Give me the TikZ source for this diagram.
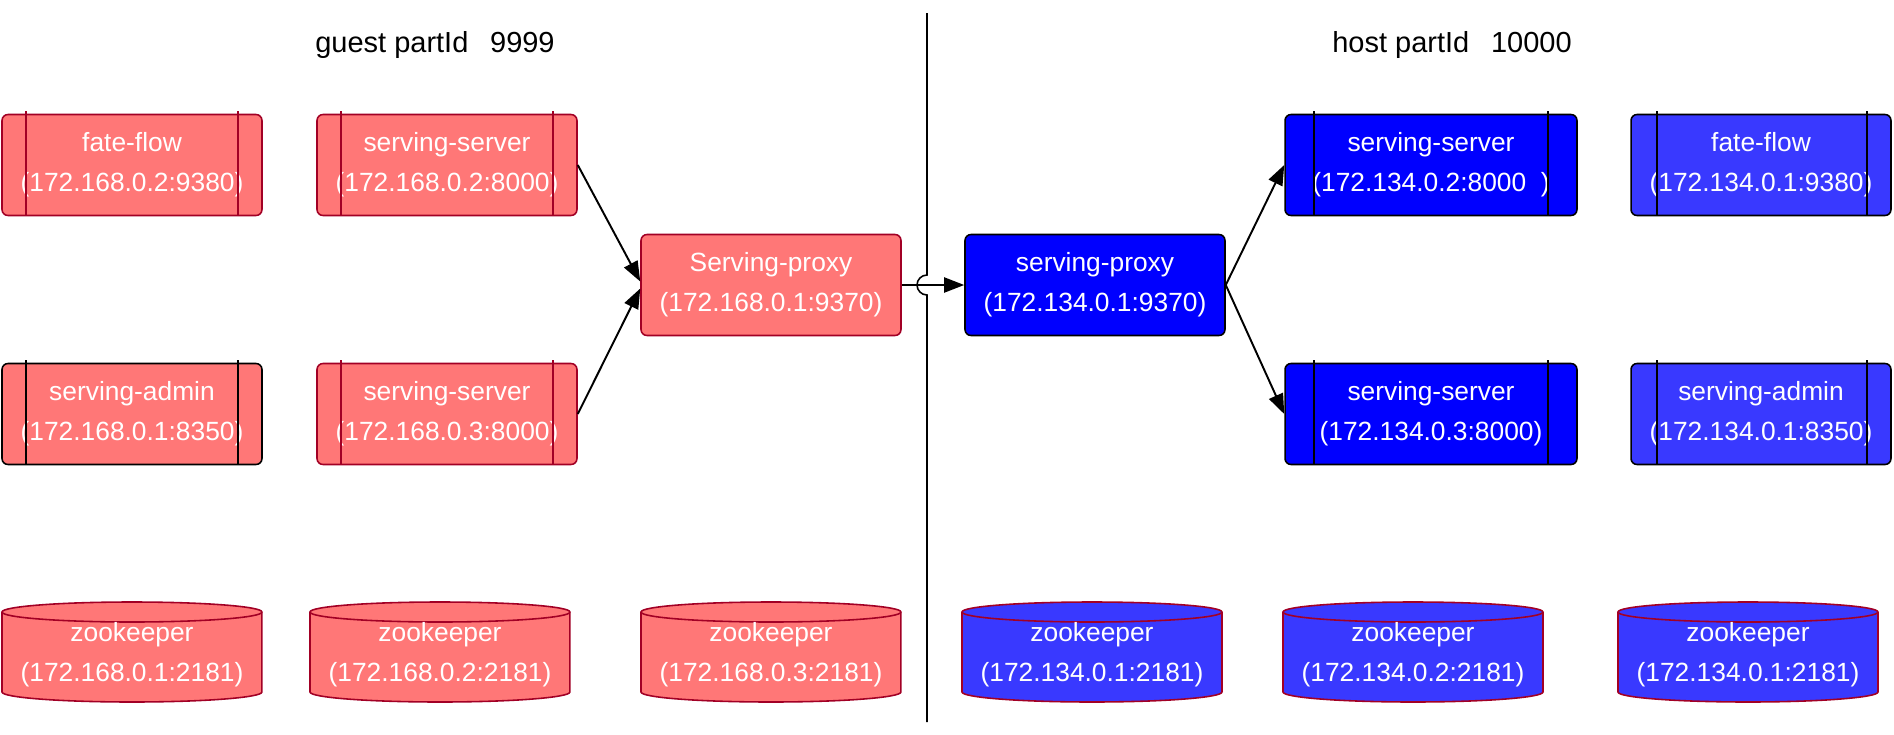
\documentclass[tikz,border=0pt]{standalone}
\usepackage{fontspec}
\setmainfont{Liberation Sans}
\usetikzlibrary{arrows.meta}

\definecolor{guestred}{HTML}{FF7777}
\definecolor{guestline}{HTML}{A20025}
\definecolor{hostblue}{HTML}{0000FF}
\definecolor{hostlight}{HTML}{3939FF}

% zookeeper drum: name, x, y, text, fill
\newcommand{\zkdb}[5]{%
  \draw[fill=#5, draw=guestline, line width=0.9pt] (#2,#3) ++(-130,-40) -- ++(0,80)
    arc[start angle=180, end angle=360, x radius=2.6cm, y radius=0.2cm] -- ++(0,-80)
    arc[start angle=0, end angle=180, x radius=2.6cm, y radius=0.2cm] -- cycle;
  \draw[draw=guestline, line width=0.9pt] (#2,#3) ++(-130,-40)
    arc[start angle=180, end angle=360, x radius=2.6cm, y radius=0.2cm];
  \node[zk] (#1) at (#2,#3+3) {#4};}

\begin{document}
\begin{tikzpicture}[x=0.02cm, y=-0.02cm, >={Triangle[length=0.4cm, width=0.3cm]},
  box/.style={rectangle, rounded corners=0.12cm, minimum width=5.2cm, minimum height=2.02cm,
    align=center, text=white, line width=0.9pt, font=\fontsize{15}{22.8}\selectfont},
  guest/.style={box, draw=guestline, fill=guestred},
  host/.style={box, draw=black, fill=hostblue},
  hostl/.style={box, draw=black, fill=hostlight},
  zk/.style={align=center, text=white, font=\fontsize{15}{22.8}\selectfont},
  title/.style={font=\fontsize{16.5}{20}\selectfont},
  link/.style={->, line width=1.1pt}]

\useasboundingbox (0,0) rectangle (1894,734);

\node[title] (guest) at (435,45) {guest partId\hspace{0.75em}9999};
\node[title] (host) at (1452,45) {host partId\hspace{0.75em}10000};

% guest side
\node[guest] (ffg) at (132,165) {fate-flow\\(172.168.0.2:9380)};
\node[guest] (ssg1) at (447,165) {serving-server\\(172.168.0.2:8000)};
\node[guest, draw=black] (sag) at (132,414) {serving-admin\\(172.168.0.1:8350)};
\node[guest] (ssg2) at (447,414) {serving-server\\(172.168.0.3:8000)};
\node[guest] (proxyg) at (771,285) {Serving-proxy\\(172.168.0.1:9370)};

\foreach \n in {ffg,ssg1,ssg2}
  \draw[guestline, line width=0.9pt] ([xshift=0.5cm,yshift=0.05cm]\n.north west) -- ([xshift=0.5cm]\n.south west)
    ([xshift=-0.5cm,yshift=0.05cm]\n.north east) -- ([xshift=-0.5cm]\n.south east);
\draw[line width=0.9pt] ([xshift=0.5cm,yshift=0.05cm]sag.north west) -- ([xshift=0.5cm]sag.south west)
  ([xshift=-0.5cm,yshift=0.05cm]sag.north east) -- ([xshift=-0.5cm]sag.south east);

% host side
\node[host] (proxyh) at (1095,285) {serving-proxy\\(172.134.0.1:9370)};
\node[host, minimum width=5.84cm] (ssh1) at (1431,165) {serving-server\\(172.134.0.2:8000~~)};
\node[host, minimum width=5.84cm] (ssh2) at (1431,414) {serving-server\\(172.134.0.3:8000)};
\node[hostl] (ffh) at (1761,165) {fate-flow\\(172.134.0.1:9380)};
\node[hostl] (sah) at (1761,414) {serving-admin\\(172.134.0.1:8350)};

\foreach \n in {ssh1,ssh2}
  \draw[line width=0.9pt] ([xshift=0.6cm,yshift=0.05cm]\n.north west) -- ([xshift=0.6cm]\n.south west)
    ([xshift=-0.6cm,yshift=0.05cm]\n.north east) -- ([xshift=-0.6cm]\n.south east);
\foreach \n in {ffh,sah}
  \draw[line width=0.9pt] ([xshift=0.54cm,yshift=0.05cm]\n.north west) -- ([xshift=0.54cm]\n.south west)
    ([xshift=-0.5cm,yshift=0.05cm]\n.north east) -- ([xshift=-0.5cm]\n.south east);

% zookeepers
\zkdb{zkg1}{132}{652}{zookeeper\\(172.168.0.1:2181)}{guestred}
\zkdb{zkg2}{440}{652}{zookeeper\\(172.168.0.2:2181)}{guestred}
\zkdb{zkg3}{771}{652}{zookeeper\\(172.168.0.3:2181)}{guestred}
\zkdb{zkh1}{1092}{652}{zookeeper\\(172.134.0.1:2181)}{hostlight}
\zkdb{zkh2}{1413}{652}{zookeeper\\(172.134.0.2:2181)}{hostlight}
\zkdb{zkh3}{1748}{652}{zookeeper\\(172.134.0.1:2181)}{hostlight}

% divider with a hop over the link
\coordinate (divtop) at (927,13);
\coordinate (hoptop) at (927,275);
\coordinate (divbot) at (927,722);
\draw[line width=0.9pt] (divtop) -- (hoptop) arc[start angle=90, end angle=270, radius=0.2cm] -- (divbot);

\draw[link] (ssg1.east) -- ([yshift=2pt]proxyg.west);
\draw[link] (ssg2.east) -- ([yshift=-2pt]proxyg.west);
\draw[link] (proxyg) -- (proxyh);
\draw[link] (proxyh.east) -- (ssh1.west);
\draw[link] (proxyh.east) -- (ssh2.west);

\end{tikzpicture}
\end{document}
